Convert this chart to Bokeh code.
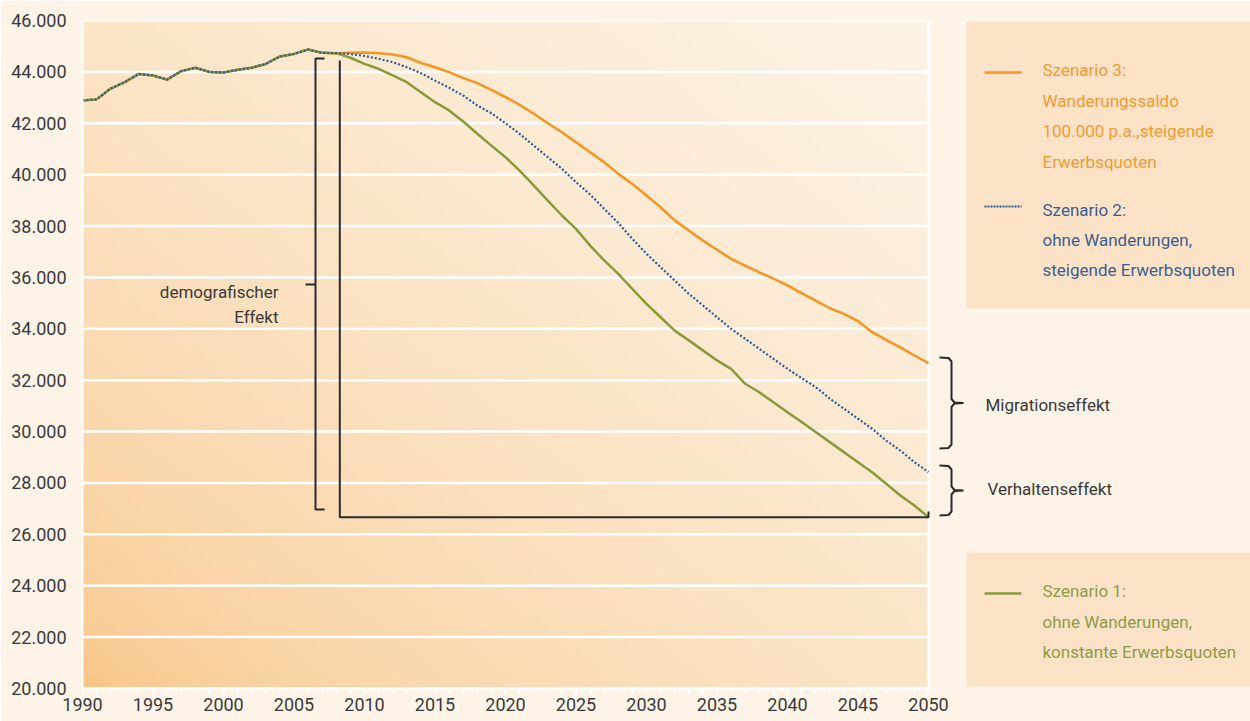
import numpy as np
from bokeh.plotting import figure
from bokeh.models import Range1d, FixedTicker
from bokeh.core.properties import value
from bokeh.embed import file_html
from bokeh.resources import INLINE

# ---------------- data (Erwerbspersonen, in 1.000) ----------------
years = list(range(1990, 2051))
history = [42890, 42930, 43350, 43600, 43920, 43860, 43700, 44030, 44160, 44000,
           43980, 44080, 44160, 44310, 44600, 44700, 44870, 44740, 44730]  # 1990-2008
szenario3_future = [44740, 44750, 44730, 44680, 44570, 44350, 44180, 43990, 43760, 43560,
                    43300, 43020, 42720, 42370, 42000, 41650, 41260, 40870, 40480, 40030,
                    39640, 39190, 38730, 38220, 37830, 37440, 37080, 36720, 36460, 36200,
                    35950, 35690, 35390, 35100, 34800, 34580, 34300, 33870, 33570, 33280,
                    32960, 32660]  # 2009-2050
szenario2_future = [44700, 44620, 44510, 44380, 44180, 43950, 43660, 43380, 43080, 42690,
                    42390, 42000, 41590, 41130, 40680, 40230, 39710, 39230, 38670, 38120,
                    37500, 36920, 36400, 35880, 35360, 34910, 34450, 34000, 33610, 33220,
                    32830, 32440, 32080, 31730, 31280, 30890, 30500, 30110, 29650, 29260,
                    28810, 28420]
szenario1_future = [44550, 44310, 44120, 43860, 43600, 43210, 42820, 42500, 42070, 41590,
                    41130, 40680, 40160, 39580, 38990, 38410, 37890, 37240, 36660, 36140,
                    35550, 34970, 34450, 33930, 33550, 33160, 32770, 32440, 31860, 31530,
                    31140, 30750, 30370, 29980, 29590, 29200, 28810, 28420, 27970, 27510,
                    27120, 26670]
y_ticks = list(range(20000, 46001, 2000))
x_ticks = list(range(1990, 2051, 5))
legend3 = ["Szenario 3:", "Wanderungssaldo", "100.000 p.a.,steigende", "Erwerbsquoten"]
legend2 = ["Szenario 2:", "ohne Wanderungen,", "steigende Erwerbsquoten"]
legend1 = ["Szenario 1:", "ohne Wanderungen,", "konstante Erwerbsquoten"]
effect_labels = ["Migrationseffekt", "Verhaltenseffekt"]
demo_label = ["demografischer", "Effekt"]

s3 = history + szenario3_future
s2 = history + szenario2_future
s1 = history + szenario1_future

# ---------------- layout helpers ----------------
W, H = 1250, 721
FONT_NAME = "Roboto"
FONT = value(FONT_NAME)
X0, X1 = years[0], years[-1]
Y0, Y1 = y_ticks[0], y_ticks[-1]
PX_PER_YEAR = 846 / 60.0
x_end = X0 + (W - 82) / PX_PER_YEAR


def dx(sx):  # page pixel -> data x
    return X0 + (sx - 82) / PX_PER_YEAR


def dy(sy):  # page pixel -> data y
    return Y1 - (sy - 20) * (Y1 - Y0) / 668.0


ORANGE = "#F7941D"
GREEN = "#8A9A3B"
BLUE = "#2D5A98"
DARK = "#2B2B2B"
TEXT = "#3A3A3A"
PAGE = "#FDF3E7"
BOX = "#FCE3C8"

p = figure(width=W, height=H, output_backend="svg", toolbar_location=None,
           x_range=Range1d(X0, x_end), y_range=Range1d(Y0, Y1),
           min_border_left=82, min_border_right=0, min_border_top=20, min_border_bottom=33,
           background_fill_color=PAGE, border_fill_color=PAGE)
p.outline_line_color = None
p.xgrid.visible = False
p.ygrid.visible = False

# gradient plot background
ny, nx = 120, 160
u = np.linspace(0, 1, nx)[None, :]
v = np.linspace(0, 1, ny)[:, None]
t = np.clip((u + v) / 2.0, 0, 1) ** 0.5
c0 = np.array([248, 194, 128])
c1 = np.array([253, 243, 229])
img = np.empty((ny, nx), dtype=np.uint32)
view = img.view(dtype=np.uint8).reshape((ny, nx, 4))
for k in range(3):
    view[:, :, k] = (c0[k] + (c1[k] - c0[k]) * t).astype(np.uint8)
view[:, :, 3] = 255
p.image_rgba(image=[img], x=X0, y=Y0, dw=X1 - X0, dh=Y1 - Y0)

# white grid lines and right border
p.segment(x0=[X0] * len(y_ticks), x1=[X1] * len(y_ticks), y0=y_ticks, y1=y_ticks,
          line_color="white", line_width=2.5)
p.segment(x0=[X1], x1=[X1], y0=[Y0], y1=[Y1], line_color="white", line_width=2.5)

# axes
p.xaxis.ticker = FixedTicker(ticks=x_ticks, minor_ticks=years)
p.xaxis.bounds = (X0, X1)
p.xaxis.axis_line_color = "white"
p.xaxis.axis_line_width = 2
p.xaxis.major_tick_line_color = "white"
p.xaxis.major_tick_line_width = 2
p.xaxis.major_tick_in = 0
p.xaxis.major_tick_out = 6
p.xaxis.minor_tick_line_color = "white"
p.xaxis.minor_tick_line_width = 2
p.xaxis.minor_tick_in = 0
p.xaxis.minor_tick_out = 6
p.xaxis.major_label_standoff = 3
p.xaxis.major_label_text_font = FONT_NAME
p.xaxis.major_label_text_font_size = "18px"
p.xaxis.major_label_text_color = TEXT

p.yaxis.ticker = FixedTicker(ticks=y_ticks, minor_ticks=[])
p.yaxis.bounds = (Y0, Y1)
p.yaxis.axis_line_color = "white"
p.yaxis.axis_line_width = 2
p.yaxis.major_tick_out = 0
p.yaxis.major_tick_in = 0
p.yaxis.minor_tick_out = 0
p.yaxis.major_label_standoff = 16
p.yaxis.major_label_text_font = FONT_NAME
p.yaxis.major_label_text_font_size = "18px"
p.yaxis.major_label_text_color = TEXT
p.yaxis.major_label_overrides = {v_: f"{v_:,}".replace(",", ".") for v_ in y_ticks}

# series
p.line(years, s3, line_color=ORANGE, line_width=2.5)
p.line(years, s1, line_color=GREEN, line_width=2.5)
p.line(years, s2, line_color=BLUE, line_width=2.2, line_dash="2 2")

# annotation brackets
p.line([dx(324), dx(315), dx(315), dx(324)], [dy(58), dy(58), dy(509), dy(509)],
       line_color=DARK, line_width=2)
p.line([dx(305), dx(315)], [dy(284), dy(284)], line_color=DARK, line_width=2)
p.line([dx(339.3), dx(339.3), X1, X1], [dy(60), s1[-1], s1[-1], dy(511)],
       line_color=DARK, line_width=2)


def brace(top, bottom, xl=939, xv=951, xt=963):
    mid = (top + bottom) / 2.0
    xs = [xl, xv - 3, xv, xv, xv + 3, xt, xv + 3, xv, xv, xv - 3, xl]
    ys = [top, top + 0.5, top + 4, mid - 4, mid - 0.5, mid, mid + 0.5, mid + 4, bottom - 4, bottom - 0.5, bottom]
    p.line([dx(a) for a in xs], [dy(b) for b in ys], line_color=DARK, line_width=2)


brace(357, 448)
brace(465, 515)

p.text(x=[dx(278)] * 2, y=[dy(291), dy(316)], text=demo_label, text_font=FONT,
       text_font_size="17px", text_color=TEXT, text_align="right", text_baseline="middle")
p.text(x=[dx(985), dx(987)], y=[dy(404), dy(488)], text=effect_labels, text_font=FONT,
       text_font_size="17px", text_color=TEXT, text_align="left", text_baseline="middle")

# legend boxes
p.quad(left=[dx(966)], right=[x_end], top=[dy(21)], bottom=[dy(308)], fill_color=BOX, line_color=None)
p.quad(left=[dx(966)], right=[x_end], top=[dy(552)], bottom=[dy(686)], fill_color=BOX, line_color=None)

p.line([dx(984), dx(1021)], [dy(72)] * 2, line_color=ORANGE, line_width=2.5)
p.line([dx(984), dx(1021)], [dy(206)] * 2, line_color=BLUE, line_width=2, line_dash="2 1")
p.line([dx(984), dx(1021)], [dy(593)] * 2, line_color=GREEN, line_width=2.5)

LX = dx(1042)
p.text(x=[LX] * 4, y=[dy(s) for s in (69, 100, 130, 161)], text=legend3, text_font=FONT,
       text_font_size="17px", text_color="#F59A2E", text_baseline="middle")
p.text(x=[LX] * 3, y=[dy(s) for s in (209, 239, 269)], text=legend2, text_font=FONT,
       text_font_size="17px", text_color="#3B5E92", text_baseline="middle")
p.text(x=[LX] * 3, y=[dy(s) for s in (590, 621, 651)], text=legend1, text_font=FONT,
       text_font_size="17px", text_color="#8E9C45", text_baseline="middle")

open("out.html", "w").write(file_html(p, INLINE))
